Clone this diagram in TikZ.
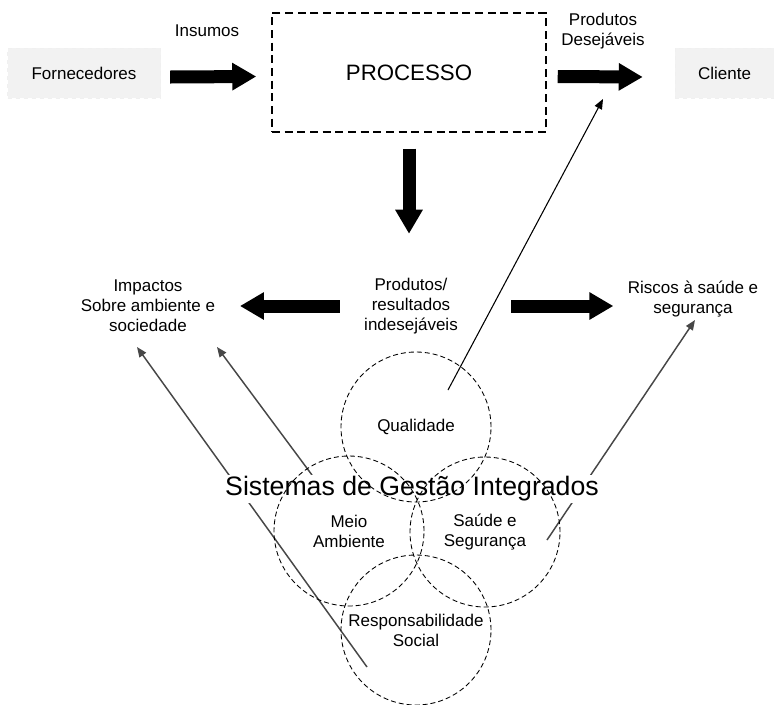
\documentclass[tikz,border=0pt]{standalone}
\usepackage{fontspec}
\setmainfont{Liberation Sans}
\usetikzlibrary{arrows.meta,backgrounds}

\begin{document}
\begin{tikzpicture}[x=0.75pt,y=-0.75pt,
  txt/.style={align=center,inner sep=0pt,font=\fontsize{12.75}{15}\selectfont},
  greybox/.style={txt,fill=black!5,draw=black!6,dashed,minimum width=74.25pt,minimum height=37.5pt},
  ring/.style={txt,circle,draw,dash pattern=on 3.75pt off 2.25pt,line width=0.65pt,minimum size=112.5pt},
  blockarrow/.style={line width=9.75pt,-{Triangle[length=18pt,width=19.5pt]}},
  thinarrow/.style={line width=1.1pt,black!72,-{Triangle[length=7.5pt,width=6pt]}}]
\useasboundingbox (0,0) rectangle (774,704);
% top row
\node[greybox,minimum width=114.75pt] (forn) at (84,73) {Fornecedores};
\node[txt] (insumos) at (207,31) {Insumos};
\node[draw,dash pattern=on 6pt off 3.5pt,line width=1.1pt,minimum width=205.5pt,minimum height=89.25pt,font=\fontsize{16.7}{20}\selectfont] (proc) at (409,72.5) {PROCESSO};
\node[txt] (desej) at (603,31) {Produtos\\Desejáveis};
\node[greybox] (cli) at (724.5,73) {Cliente};
% middle row
\node[txt] (indes) at (411,306) {Produtos/\\resultados\\indesejáveis};
\node[txt] (impactos) at (148,306) {Impactos\\Sobre ambiente e\\sociedade};
\node[txt] (riscos) at (693,299) {Riscos à saúde e\\segurança};
\draw[blockarrow] ([xshift=7pt,yshift=-3pt]forn.east) -- ([xshift=-11.25pt,yshift=-3pt]proc.west);
\draw[blockarrow] ([xshift=8.25pt,yshift=-3pt]proc.east) -- ([xshift=-24pt,yshift=-3pt]cli.west);
\draw[blockarrow] ([yshift=-12pt]proc.south) -- ++(0,85);
\draw[blockarrow] ([xshift=-18pt]indes.west) -- ++(-100,0);
\draw[blockarrow] ([xshift=40pt]indes.east) -- ++(102,0);
% integrated systems
\node[fill=white,inner sep=1pt,font=\fontsize{20}{24}\selectfont] (sgi) at (412,489) {Sistemas de Gestão Integrados};
\node[ring] (qual) at (416,427) {Qualidade};
\node[ring] (meio) at (349,531) {Meio\\Ambiente};
\node[ring] (saude) at (485,532) {Saúde e\\Segurança};
\node[ring] (resp) at (416,630) {Responsabilidade\\Social};
% thin connectors
\coordinate (q0) at (448,390);
\coordinate (q1) at (603,99);
\coordinate (r0) at (367,667);
\coordinate (r1) at (137,347);
\coordinate (m0) at (312,475);
\coordinate (m1) at (217,347);
\coordinate (s0) at (547,540);
\coordinate (s1) at (695,320);
\begin{scope}[on background layer]
\draw[thinarrow,black,line width=0.8pt] (q0) -- (q1);
\draw[thinarrow] (r0) -- (r1);
\draw[thinarrow] (m0) -- (m1);
\draw[thinarrow] (s0) -- (s1);
\end{scope}
\end{tikzpicture}
\end{document}
